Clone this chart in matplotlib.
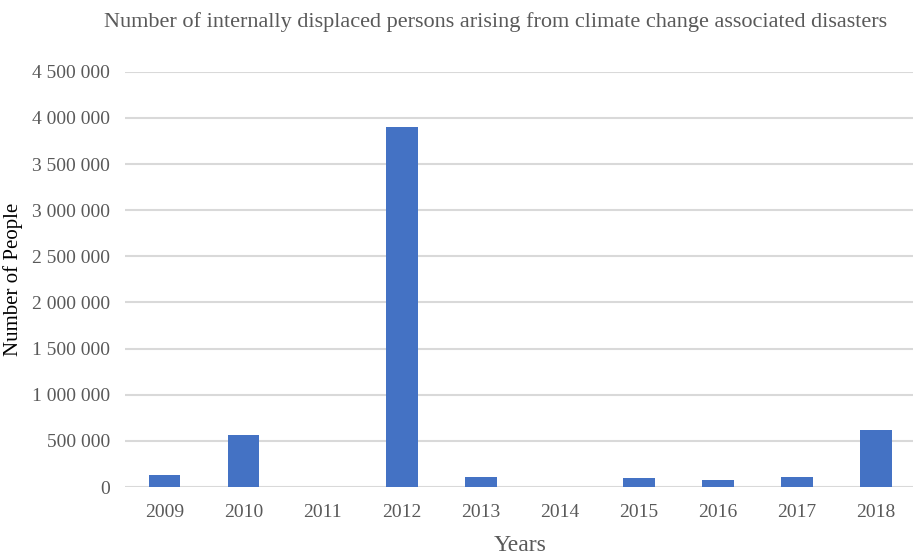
import matplotlib.pyplot as plt
import matplotlib.ticker as mticker
import numpy as np

plt.rcParams['font.family'] = ['Liberation Serif', 'DejaVu Serif']

years = ['2009', '2010', '2011', '2012', '2013', '2014', '2015', '2016', '2017', '2018']
displaced = [130000, 564000, 0, 3900000, 112000, 0, 94000, 79000, 112000, 615000]

text_color = '#595959'
bar_color = '#4472C4'

fig = plt.figure(figsize=(9.13, 5.56), dpi=100)
ax = fig.add_axes([0.137, 0.124, 0.866, 0.747])

x = np.arange(len(years))
ax.bar(x, displaced, width=0.4, color=bar_color, zorder=3)

ax.set_xlim(-0.5, len(years) - 0.5)
ax.set_ylim(0, 4500000)
ax.set_yticks(np.arange(0, 4500001, 500000))
ax.yaxis.set_major_formatter(mticker.FuncFormatter(lambda v, p: f'{int(v):,}'.replace(',', ' ')))
ax.set_xticks(x)
ax.set_xticklabels(years)

ax.grid(axis='y', color='#d9d9d9', linewidth=1.5, zorder=0)
ax.tick_params(length=0, labelsize=14, colors=text_color)
ax.tick_params(axis='y', pad=11)
ax.tick_params(axis='x', pad=12)
for s in ax.spines.values():
    s.set_visible(False)

ax.set_xlabel('Years', fontsize=17, color=text_color, labelpad=10)
ax.set_ylabel('Number of People', fontsize=15, color='black', labelpad=6)
fig.text(0.543, 0.96, 'Number of internally displaced persons arising from climate change associated disasters',
         ha='center', va='center', fontsize=16, color=text_color)

fig.savefig('out.png', dpi=100)
